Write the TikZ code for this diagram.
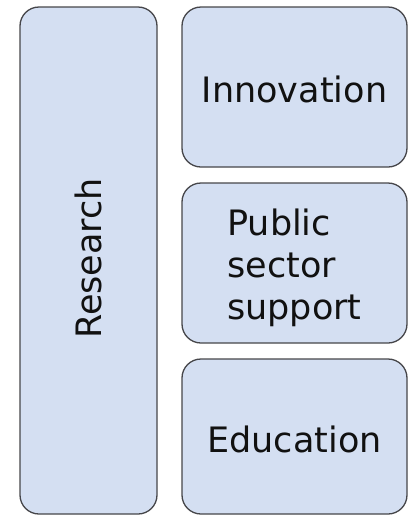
\documentclass[tikz,border=0pt]{standalone}
\usepackage{fontspec}
\setmainfont{DejaVu Sans}
\definecolor{boxfill}{RGB}{212,223,242}
\definecolor{boxline}{RGB}{70,70,74}
\definecolor{txt}{RGB}{17,17,17}
\begin{document}
\begin{tikzpicture}[x=1pt,y=-1pt,
  box/.style={draw=boxline, line width=1.3pt, fill=boxfill, rounded corners=19pt, inner sep=0pt},
  lbl/.style={text=txt, font=\fontsize{35}{42}\selectfont, inner sep=0pt, align=left}]
\useasboundingbox (0,0) rectangle (408,515);
\node[box, minimum width=137pt, minimum height=507pt] (res) at (88.5,260.5) {};
\node[box, minimum width=225pt, minimum height=160pt] (inn) at (294.5,87) {};
\node[box, minimum width=225pt, minimum height=160pt] (pub) at (294.5,263) {};
\node[box, minimum width=225pt, minimum height=155pt] (edu) at (294.5,436.5) {};
\node[lbl, rotate=90, xshift=2pt] (restxt) at (res.center) {Research};
\node[lbl, yshift=-2pt] (inntxt) at (inn.center) {Innovation};
\node[lbl, yshift=-5pt] (pubtxt) at (pub.center) {Public\\sector\\support};
\node[lbl, yshift=-2.5pt] (edutxt) at (edu.center) {Education};
\end{tikzpicture}
\end{document}
